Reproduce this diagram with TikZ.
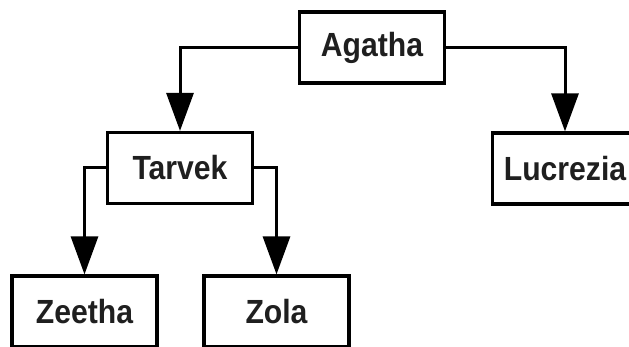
\documentclass[tikz,border=0pt]{standalone}
\usepackage{fontspec}
\setmainfont{Liberation Sans}[FakeStretch=0.9]
\usetikzlibrary{arrows.meta}
\begin{document}
\begin{tikzpicture}[x=1pt,y=-1pt,
  person/.style={draw=black, line width=3.2pt, fill=white, rectangle,
    minimum width=145pt, minimum height=71pt, inner sep=0pt,
    font=\fontsize{33.5}{38}\selectfont\bfseries, text=black!88},
  link/.style={draw=black, line width=3pt,
    -{Triangle[length=38pt,width=27pt]}}]
\useasboundingbox (0,0) rectangle (629,347);
\clip (0,0) rectangle (629,347);
\node[person] (agatha) at (372,47.5) {Agatha};
\node[person] (tarvek) at (180,168) {Tarvek};
\node[person] (lucrezia) at (565,168.5) {Lucrezia};
\node[person] (zeetha) at (84.5,311.5) {Zeetha};
\node[person] (zola) at (276.5,311.5) {Zola};
\draw[link] (agatha.west) -| (tarvek.north);
\draw[link] (agatha.east) -| (lucrezia.north);
\draw[link] (tarvek.west) -| (zeetha.north);
\draw[link] (tarvek.east) -| (zola.north);
\end{tikzpicture}
\end{document}
